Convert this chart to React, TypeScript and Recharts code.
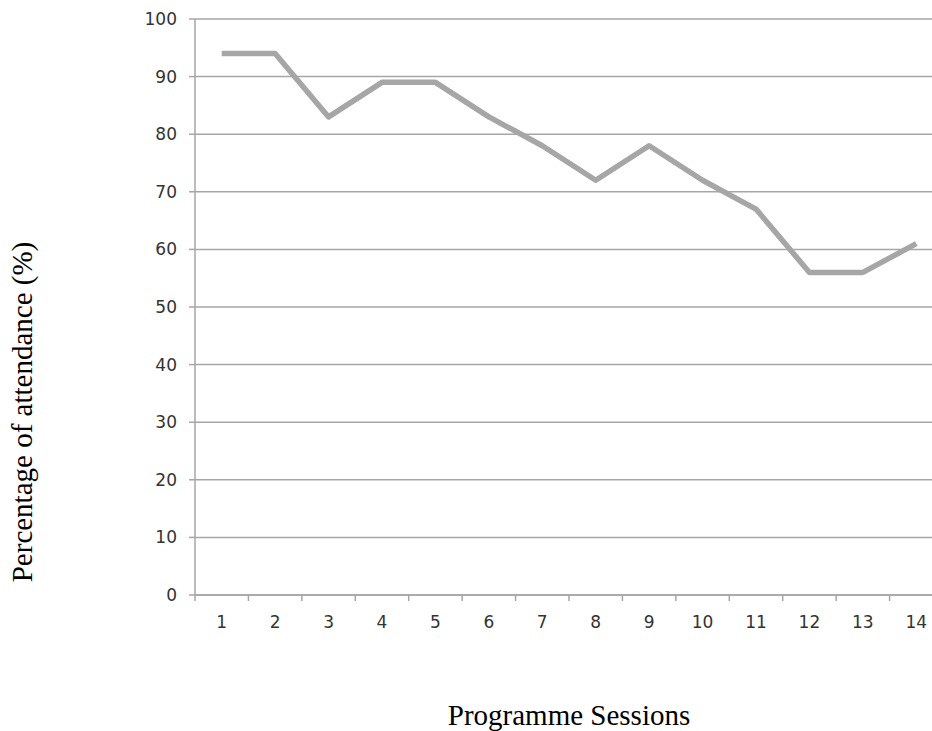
import { LineChart, Line, XAxis, YAxis, CartesianGrid, Label } from "recharts"

const sessions = [1, 2, 3, 4, 5, 6, 7, 8, 9, 10, 11, 12, 13, 14]
const attendance = [94, 94, 83, 89, 89, 83, 78, 72, 78, 72, 67, 56, 56, 61]
const yTicks = [0, 10, 20, 30, 40, 50, 60, 70, 80, 90, 100]
// boundaries between sessions get a tick mark, sessions get a label
const xBoundaries = [0.5, 1.5, 2.5, 3.5, 4.5, 5.5, 6.5, 7.5, 8.5, 9.5, 10.5, 11.5, 12.5, 13.5]

const chartData = sessions.map((s, i) => ({ session: s, value: attendance[i] }))
const xTicks = [...xBoundaries, ...sessions].sort((a, b) => a - b)

const grey = "#a6a6a6"
const tickFont = "'DejaVu Sans', Verdana, sans-serif"
const titleFont = "'Liberation Serif', 'Times New Roman', serif"

function SessionTick(props: any) {
  const { x, y, payload } = props
  if (!Number.isInteger(payload.value)) {
    return <line x1={x} x2={x} y1={y - 8} y2={y - 2} stroke={grey} strokeWidth={1.5} />
  }
  return (
    <text x={x} y={y + 25} textAnchor="middle" fontFamily={tickFont} fontSize={17} fill="#333">
      {payload.value}
    </text>
  )
}

export default function App() {
  return (
    <div style={{ position: "absolute", left: 0, top: 0, width: 932, height: 731, overflow: "hidden", background: "#fff" }}>
      <LineChart width={943} height={731} data={chartData} margin={{ top: 19, right: 0, bottom: 0, left: 0 }}>
        <CartesianGrid vertical={false} stroke={grey} strokeWidth={1.5} />
        <XAxis
          dataKey="session"
          type="number"
          domain={[0.5, 14.5]}
          ticks={xTicks}
          interval={0}
          height={136}
          tickLine={false}
          tick={<SessionTick />}
          axisLine={{ stroke: grey, strokeWidth: 1.5 }}
        >
          <Label
            content={(p: any) => {
              const vb = p.viewBox || { x: 195, y: 595, width: 747, height: 136 }
              return (
                <text
                  x={vb.x + vb.width / 2}
                  y={vb.y + vb.height - 6}
                  textAnchor="middle"
                  fontFamily={titleFont}
                  fontSize={29}
                  fill="#000"
                >
                  Programme Sessions
                </text>
              )
            }}
          />
        </XAxis>
        <YAxis
          domain={[0, 100]}
          ticks={yTicks}
          interval={0}
          width={195}
          tickSize={6}
          tickMargin={12}
          tickLine={{ stroke: grey, strokeWidth: 1.5 }}
          axisLine={{ stroke: grey, strokeWidth: 1.5 }}
          tick={{ fontFamily: tickFont, fontSize: 17, fill: "#333" }}
        >
          <Label
            content={(p: any) => {
              const vb = p.viewBox || { x: 0, y: 19 }
              return (
                <text
                  transform={`translate(${vb.x + 32}, ${vb.y + 393}) rotate(-90)`}
                  textAnchor="middle"
                  fontFamily={titleFont}
                  fontSize={29}
                  fill="#000"
                >
                  Percentage of attendance (%)
                </text>
              )
            }}
          />
        </YAxis>
        <Line
          type="linear"
          dataKey="value"
          stroke={grey}
          strokeWidth={5.5}
          strokeLinejoin="round"
          dot={false}
          activeDot={false}
          isAnimationActive={false}
        />
      </LineChart>
    </div>
  )
}
